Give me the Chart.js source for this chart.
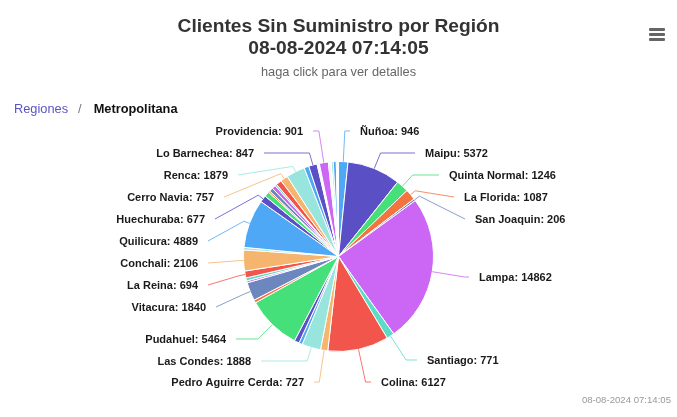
<!DOCTYPE html>
<html lang="es">
<head>
<meta charset="utf-8">
<title>Clientes Sin Suministro por Región</title>
<script src="https://cdn.jsdelivr.net/npm/chart.js@4/dist/chart.umd.min.js"></script>
<style>
    html, body { margin: 0; padding: 0; background: #fff; font-family: "Liberation Sans", Arial, sans-serif; }
    #wrap { position: relative; width: 677px; height: 417px; overflow: hidden; }
    #pie { position: absolute; left: 0; top: 0; }
    #crumbs { position: absolute; left: 14px; top: 101px; font-size: 12.8px; line-height: 16px; white-space: nowrap; }
    #crumbs a { color: #5a54c4; text-decoration: none; }
    #crumbs .sep { color: #777; margin: 0 12px 0 10px; }
    #crumbs b { color: #111; }
    #menu { position: absolute; left: 649px; top: 28px; width: 16px; }
    #menu div { height: 3px; background: #666; margin-bottom: 2px; border-radius: 1px; }
    #stamp { position: absolute; right: 6px; top: 394px; font-size: 9.6px; line-height: 12px; color: #999; }
</style>
</head>
<body>
<div id="wrap">
    <canvas id="pie" width="677" height="417"></canvas>
    <div id="crumbs"><a href="#">Regiones</a><span class="sep">/</span><b>Metropolitana</b></div>
    <div id="menu"><div></div><div></div><div></div></div>
    <div id="stamp">08-08-2024 07:14:05</div>
</div>
<script>
// Comunas, clockwise from the top. Empty name = slice the reference leaves unlabelled
const comunas = [
    'Ñuñoa', 'Maipu', 'Quinta Normal', 'La Florida', 'San Joaquin', 'Lampa', 'Santiago', 'Colina',
    'Pedro Aguirre Cerda', 'Las Condes', '', '', 'Pudahuel', '', 'Vitacura', '', '', 'La Reina', 'Conchali', '',
    'Quilicura', 'Huechuraba', '', '', '', '', '', '', 'Cerro Navia', 'Renca',
    '', 'Lo Barnechea', '', '', '', 'Providencia', '', '', '', '',
    '', '', '', '', ''
];
const clientes = [
    946, 5372, 1246, 1087, 206, 14862, 771, 6127,
    727, 1888, 350, 500, 5464, 300, 1840, 200, 300, 694, 2106, 250,
    4889, 677, 520, 160, 380, 380, 180, 570, 757, 1879,
    480, 847, 90, 70, 75, 901, 110, 90, 90, 200,
    300, 55, 55, 55, 55
];
const palette = ['#4fa8f6', '#5a4fc4', '#45e07a', '#f47440', '#6c87bd', '#cc66f5', '#5cdbc6', '#f2554b', '#f5b56e', '#98e5dd'];

// Where each label text sits (left/right edge x, middle y)
const labelSpots = {
    'Ñuñoa': [360, 131], 'Maipu': [425, 153], 'Quinta Normal': [449, 175], 'La Florida': [464, 197],
    'San Joaquin': [475, 219], 'Lampa': [479, 277], 'Santiago': [427, 360], 'Colina': [381, 382],
    'Pedro Aguirre Cerda': [304, 382], 'Las Condes': [251, 361], 'Pudahuel': [226, 339], 'Vitacura': [206, 307],
    'La Reina': [198, 285], 'Conchali': [198, 263], 'Quilicura': [198, 241], 'Huechuraba': [205, 219],
    'Cerro Navia': [214, 197], 'Renca': [228, 175], 'Lo Barnechea': [254, 153], 'Providencia': [303, 131]
};

// Highcharts style labels: rim -> elbow -> label
const sliceLabels = {
    id: 'sliceLabels',
    afterDatasetsDraw(chart) {
        const ctx = chart.ctx;
        const arcs = chart.getDatasetMeta(0).data;
        ctx.save();
        ctx.font = 'bold 11px "Liberation Sans", Arial, sans-serif';
        ctx.textBaseline = 'middle';
        arcs.forEach((arc, i) => {
            const name = comunas[i];
            if (!name) return;
            const [x, y] = labelSpots[name];
            const mid = (arc.startAngle + arc.endAngle) / 2;
            const cos = Math.cos(mid);
            const sin = Math.sin(mid);
            const right = cos > 0;
            const endX = right ? x - 10 : x + 10;
            const rimX = arc.x + cos * arc.outerRadius;
            const rimY = arc.y + sin * arc.outerRadius;

            // go out along the radius up to the label's row when that is close, else just a short stub
            let out = (y - rimY) / sin;
            const elbowX = rimX + cos * out;
            if (out < 0 || out > 40 || (right ? elbowX > endX : elbowX < endX)) out = 6;

            ctx.strokeStyle = palette[i % palette.length];
            ctx.globalAlpha = 0.8;
            ctx.lineWidth = 1;
            ctx.beginPath();
            ctx.moveTo(rimX, rimY);
            ctx.lineTo(rimX + cos * out, rimY + sin * out);
            ctx.lineTo(endX, y);
            ctx.stroke();
            ctx.globalAlpha = 1;

            ctx.fillStyle = '#1a1a1a';
            ctx.textAlign = right ? 'left' : 'right';
            ctx.fillText(`${name}: ${clientes[i]}`, x, y + 1);
        });
        ctx.restore();
    }
};

new Chart(document.getElementById('pie'), {
    type: 'pie',
    data: {
        labels: comunas,
        datasets: [{
            data: clientes,
            backgroundColor: clientes.map((v, i) => palette[i % palette.length]),
            borderColor: '#fff',
            borderWidth: 1,
            radius: 95,
            hoverOffset: 0
        }]
    },
    options: {
        responsive: false,
        animation: false,
        plugins: {
            legend: { display: false },
            title: {
                display: true,
                text: ['Clientes Sin Suministro por Región', '08-08-2024 07:14:05'],
                color: '#333',
                font: { family: '"Liberation Sans", Arial, sans-serif', size: 19.2, weight: 'bold', lineHeight: 1.15 },
                padding: { top: 16, bottom: 0 }
            },
            subtitle: {
                display: true,
                text: 'haga click para ver detalles',
                color: '#666',
                font: { family: '"Liberation Sans", Arial, sans-serif', size: 12.8 },
                padding: { top: 4.2, bottom: 16.3 }
            }
        }
    },
    plugins: [sliceLabels]
});
</script>
</body>
</html>
